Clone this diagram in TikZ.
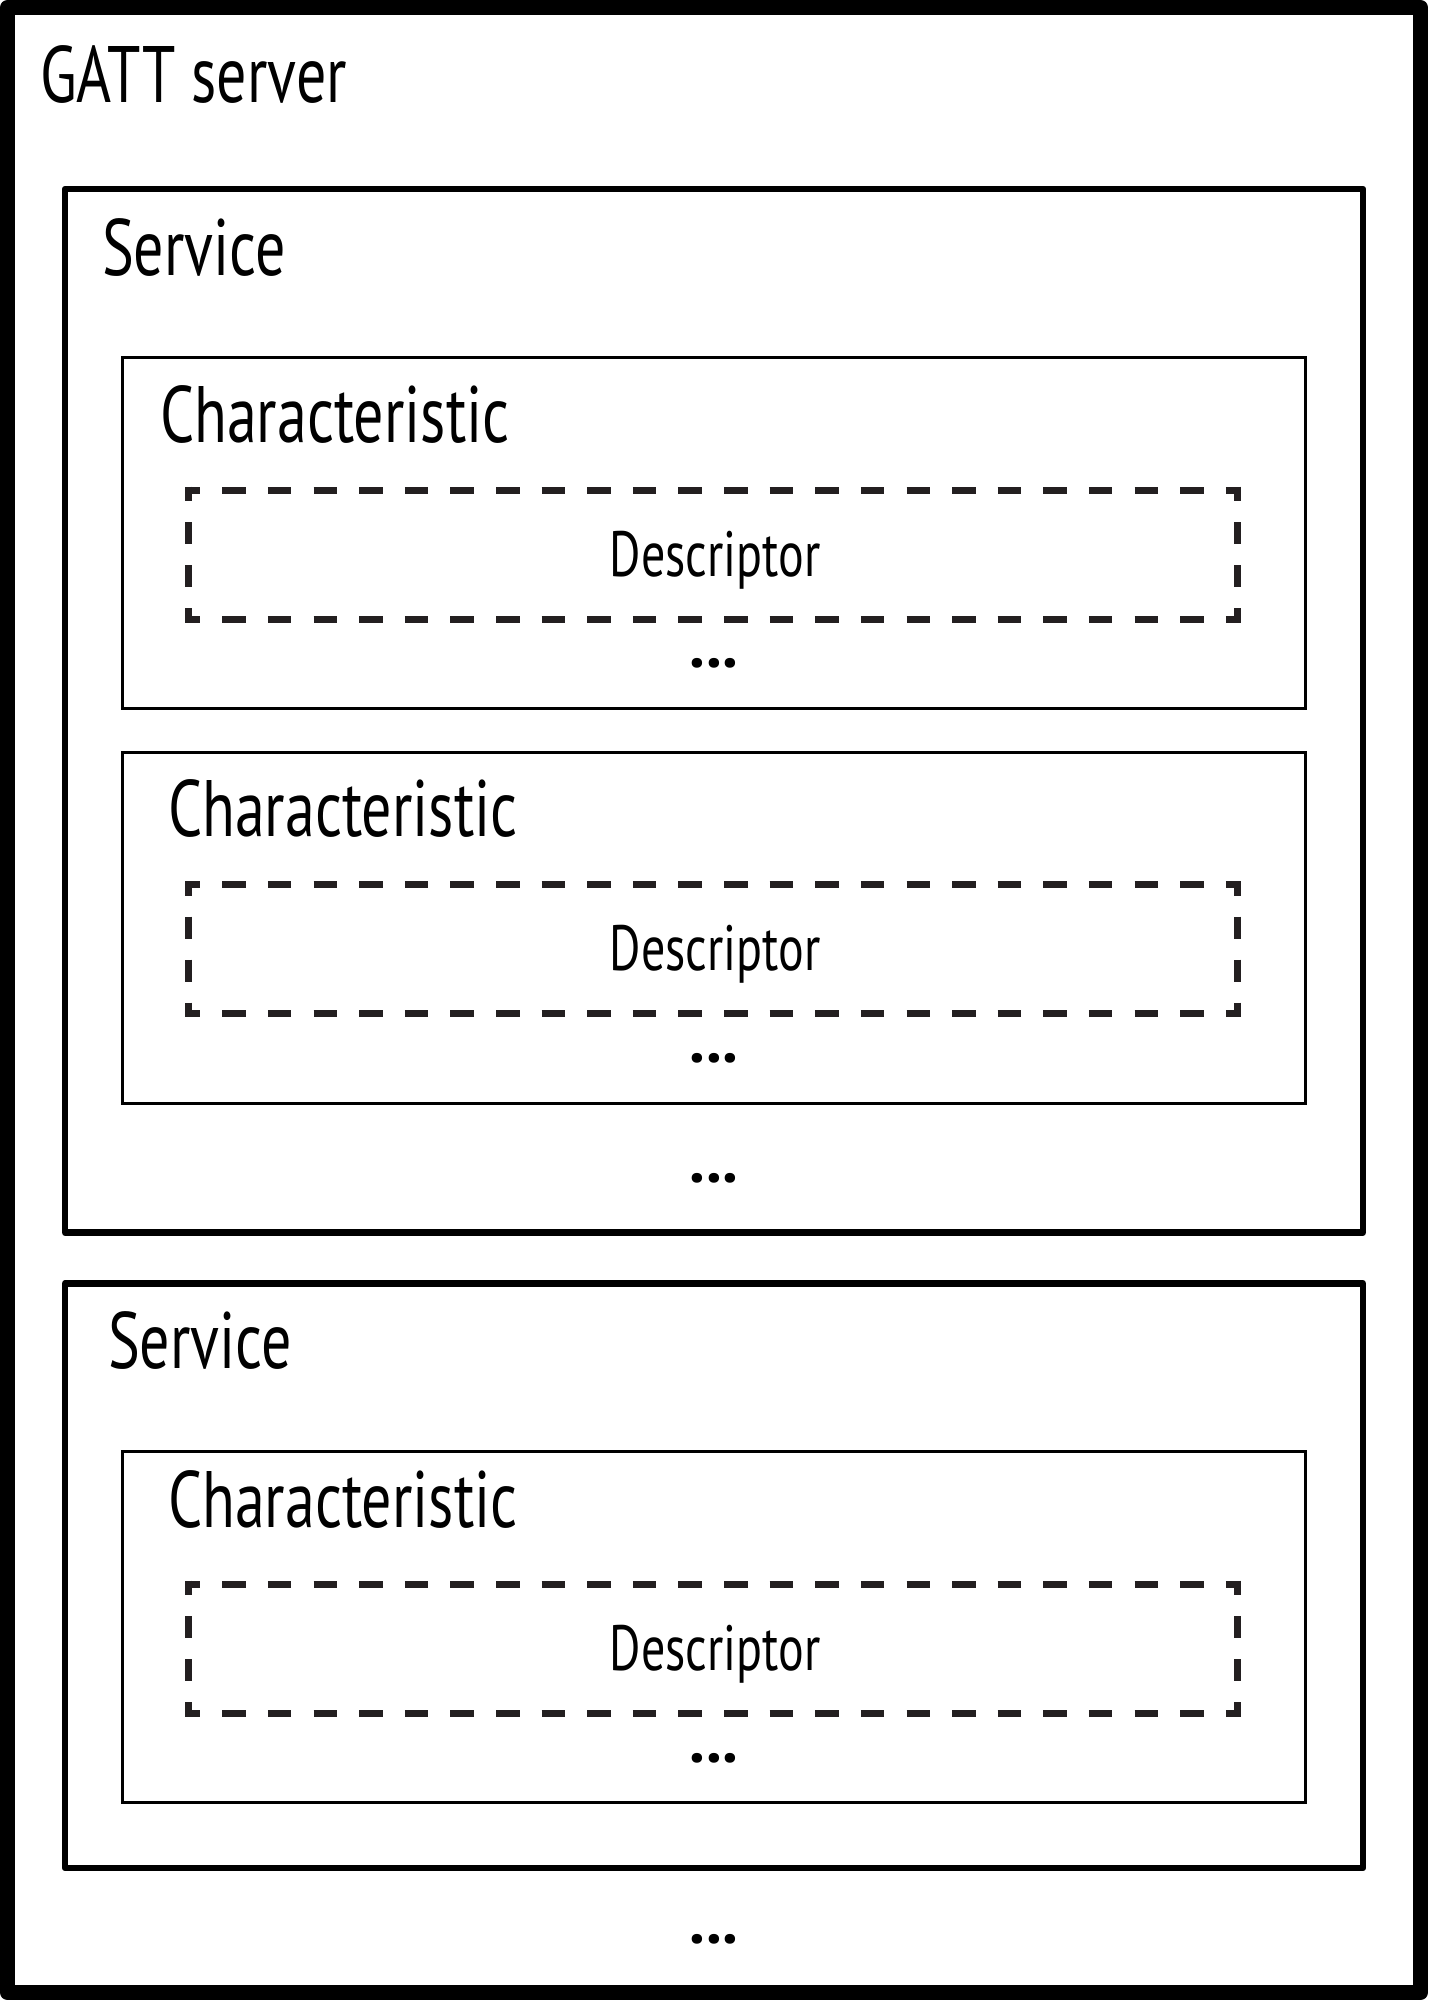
\documentclass[tikz,border=0pt]{standalone}
\usepackage{fontspec}
\setmainfont[FakeStretch=0.75]{PT Sans}
\newfontfamily\dotfont{PT Sans}
\definecolor{dashgray}{RGB}{35,31,32}
\begin{document}
\begin{tikzpicture}[x=1pt,y=-1pt,
  outerbox/.style={draw=black,line width=15pt,line join=round,inner sep=0pt,outer sep=0pt,anchor=north west,minimum width=1413pt,minimum height=1985pt},
  servbox/.style={draw=black,line width=6.5pt,line join=round,inner sep=0pt,outer sep=0pt,anchor=north west,minimum width=1298pt},
  charbox/.style={draw=black,line width=3pt,inner sep=0pt,outer sep=0pt,anchor=north west,minimum width=1183pt,minimum height=351pt},
  descarea/.style={inner sep=0pt,outer sep=0pt,anchor=north west,minimum width=1049pt,minimum height=129pt},
  hdash/.style={draw=dashgray,line width=7pt,dash pattern=on 23.5pt off 22.109pt,dash phase=8.25pt,shorten <=-3.5pt,shorten >=-3.5pt},
  vdash/.style={draw=dashgray,line width=7pt,dash pattern=on 22pt off 21pt,dash phase=7.5pt,shorten <=-3.5pt,shorten >=-3.5pt},
  biglabel/.style={anchor=base west,inner sep=0pt,outer sep=0pt,font=\fontsize{80}{96}\selectfont},
  desclabel/.style={anchor=base,inner sep=0pt,outer sep=0pt,font=\fontsize{64}{76}\selectfont},
  dotslabel/.style={anchor=center,inner sep=0pt,outer sep=0pt,font=\dotfont\bfseries\fontsize{64}{76}\selectfont}
]
\useasboundingbox (0,0) rectangle (1428,2000);
\fill[white] (0,0) rectangle (1428,2000);

% outer GATT server box
\node[outerbox] (gatt) at (7.5,7.5) {};
\node[biglabel] (gattlbl) at (40,102) {GATT server};

% Service 1
\node[servbox,minimum height=1043.5pt] (s1) at (65,189) {};
\node[biglabel] (s1lbl) at (102,275) {Service};

% Service 2
\node[servbox,minimum height=584.5pt] (s2) at (65,1283.5) {};
\node[biglabel] (s2lbl) at (108,1368) {Service};

% Characteristics
\node[charbox] (c1) at (122.5,357.5) {};
\node[biglabel] (c1lbl) at (160,442) {Characteristic};
\node[charbox] (c2) at (122.5,752) {};
\node[biglabel] (c2lbl) at (168,836) {Characteristic};
\node[charbox] (c3) at (122.5,1451.5) {};
\node[biglabel] (c3lbl) at (168,1527) {Characteristic};

% Descriptors
\foreach \n/\t in {1/490,2/884.5,3/1584}{
  \node[descarea] (d\n) at (188.5,\t) {};
  \draw[hdash] (d\n.north west) -- (d\n.north east);
  \draw[hdash] (d\n.south west) -- (d\n.south east);
  \draw[vdash] (d\n.north west) -- (d\n.south west);
  \draw[vdash] (d\n.north east) -- (d\n.south east);
  \node[desclabel] (d\n lbl) at (715,\t+86) {Descriptor};
}

% ellipses
\node[dotslabel] (c1dots) at (714,663) {...};
\node[dotslabel] (c2dots) at (714,1058) {...};
\node[dotslabel] (c3dots) at (714,1758) {...};
\node[dotslabel] (s1dots) at (714,1178) {...};
\node[dotslabel] (gdots) at (714,1939) {...};
\end{tikzpicture}
\end{document}
